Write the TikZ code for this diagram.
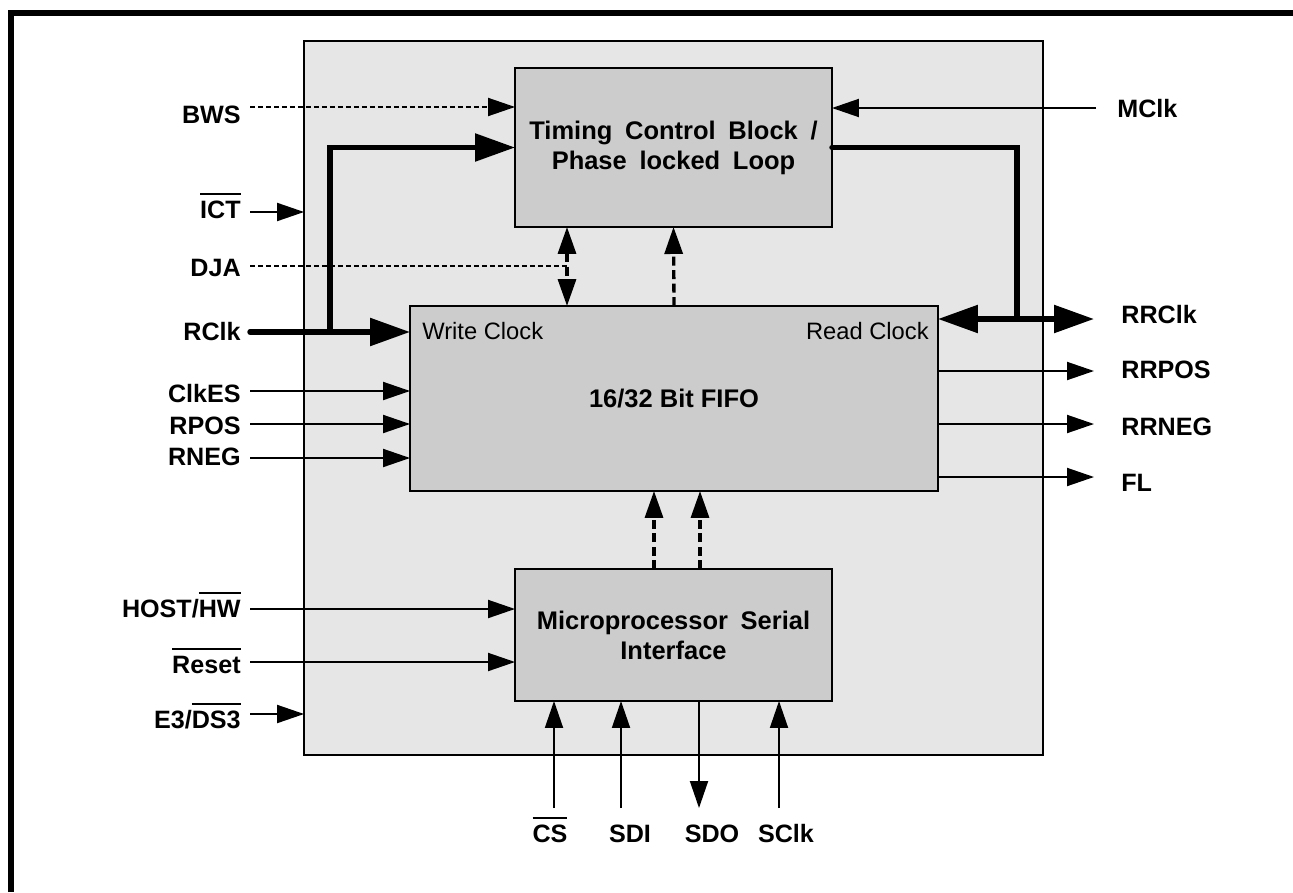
\documentclass[tikz,border=0pt]{standalone}
\usepackage{fontspec}
\setmainfont{Liberation Sans}
\newfontfamily\blkfont{Liberation Sans}[WordSpace=1.8]
\definecolor{cChip}{HTML}{E6E6E6}
\definecolor{cBlk}{HTML}{CCCCCC}
\usetikzlibrary{arrows.meta,positioning}
\newcommand{\ovl}[1]{\begingroup\setbox0=\hbox{#1}\rlap{\rule[\dimexpr\ht0+0.22em\relax]{\wd0}{1.2pt}}\box0\endgroup}

\begin{document}
\begin{tikzpicture}[x=0.02cm,y=-0.02cm,
      chipbox/.style={draw=black,fill=cChip,line width=1.1pt,inner sep=0pt,outer sep=0pt},
      blk/.style={draw=black,fill=cBlk,line width=1.1pt,inner sep=0pt,outer sep=0pt,align=center,
                  font=\blkfont\fontsize{14.5pt}{17pt}\selectfont\bfseries},
      sig/.style={inner sep=0pt,font=\fontsize{14.3pt}{16pt}\selectfont\bfseries},
      clk/.style={inner sep=0pt,font=\fontsize{13.5pt}{16pt}\selectfont},
      thn/.style={line width=1.1pt},
      dl/.style={line width=1.1pt,dash pattern=on 0.1cm off 0.06cm},
      dv/.style={line width=1.9pt,dash pattern=on 0.18cm off 0.09cm},
      bus/.style={line width=3.1pt},
      tip/.style={-{Triangle[length=0.54cm,width=0.36cm]}},
      dtip/.style={{Triangle[length=0.54cm,width=0.36cm]}-{Triangle[length=0.54cm,width=0.36cm]}},
      btip/.style={-{Triangle[length=0.8cm,width=0.54cm]}},
      bdtip/.style={{Triangle[length=0.8cm,width=0.54cm]}-{Triangle[length=0.8cm,width=0.54cm]}}]
    \useasboundingbox (0,0) rectangle (1293,892);
    \node[chipbox,minimum width=14.78cm,minimum height=14.28cm] (chip) at (673.5,398) {};
    \node[blk,minimum width=6.34cm,minimum height=3.18cm] (tcb) at (673.5,147.5)
      {Timing Control Block /\\Phase locked Loop};
    \node[blk,minimum width=10.56cm,minimum height=3.7cm,font=\fontsize{14.5pt}{17pt}\selectfont\bfseries]
      (fifo) at (674,398.5) {16/32 Bit FIFO};
    \node[blk,minimum width=6.34cm,minimum height=2.64cm] (mpi) at (673.5,635)
      {Microprocessor Serial\\Interface};
    \node[clk,anchor=base west] (wclk) at (422,339) {Write Clock};
    \node[clk,anchor=base east] (rdclk) at (929,339) {Read Clock};

    \node[sig,anchor=base east] (lBWS) at (241,123) {BWS};
    \node[sig,anchor=base east] (lICT) at (241,218) {\ovl{ICT}};
    \node[sig,anchor=base east] (lDJA) at (241,276) {DJA};
    \node[sig,anchor=base east] (lRClk) at (241,340) {RClk};
    \node[sig,anchor=base east] (lClkES) at (241,402) {ClkES};
    \node[sig,anchor=base east] (lRPOS) at (241,434) {RPOS};
    \node[sig,anchor=base east] (lRNEG) at (241,465) {RNEG};
    \node[sig,anchor=base east] (lHOST) at (241,617) {HOST/\ovl{HW}};
    \node[sig,anchor=base east] (lReset) at (241,673) {\ovl{Reset}};
    \node[sig,anchor=base east] (lE3) at (241,728) {E3/\ovl{DS3}};
    \node[sig,anchor=base west] (lMClk) at (1117,117) {MClk};
    \node[sig,anchor=base west] (lRRClk) at (1121,323) {RRClk};
    \node[sig,anchor=base west] (lRRPOS) at (1121,378) {RRPOS};
    \node[sig,anchor=base west] (lRRNEG) at (1121,435) {RRNEG};
    \node[sig,anchor=base west] (lFL) at (1121,491) {FL};
    \node[sig,anchor=base] (lCS) at (550,842) {\ovl{CS}};
    \node[sig,anchor=base] (lSDI) at (630,842) {SDI};
    \node[sig,anchor=base] (lSDO) at (712,842) {SDO};
    \node[sig,anchor=base] (lSClk) at (786,842) {SClk};

    \coordinate (bws) at (250,107);   \coordinate (ict) at (250,212);
    \coordinate (dja) at (250,266);   \coordinate (djx) at (567,266);
    \coordinate (rclk) at (250,332);  \coordinate (brn) at (330,332);
    \coordinate (clkes) at (250,391); \coordinate (rpos) at (250,424);
    \coordinate (rneg) at (250,458);  \coordinate (host) at (250,609);
    \coordinate (rst) at (250,662);   \coordinate (e3) at (250,714);
    \coordinate (mclk) at (1096,108); \coordinate (rjn) at (1017,319);
    \coordinate (rrclk) at (1094,319); \coordinate (rrpos) at (1094,371);
    \coordinate (rrneg) at (1094,424); \coordinate (fl) at (1094,477);
    \coordinate (cs) at (554,808);    \coordinate (sdi) at (621,808);
    \coordinate (sdo) at (699,808);   \coordinate (sclk) at (779,808);
    \coordinate (upA) at (654,569);   \coordinate (upB) at (700,569);

    \draw[dl,tip] (bws) -- (bws -| tcb.west);
    \draw[thn,tip] (ict) -- (ict -| chip.west);
    \draw[dl] (dja) -- (djx);
    \draw[dv,dtip] (djx |- tcb.south) -- (djx |- fifo.north);
    \draw[dv,tip] (fifo.north) -- (tcb.south);
    \draw[bus,btip,line cap=round] (rclk) -- (rclk -| fifo.west);
    \draw[bus,btip] (brn) |- (tcb.west);
    \draw[thn,tip] (clkes) -- (clkes -| fifo.west);
    \draw[thn,tip] (rpos) -- (rpos -| fifo.west);
    \draw[thn,tip] (rneg) -- (rneg -| fifo.west);
    \draw[thn,tip] (host) -- (host -| mpi.west);
    \draw[thn,tip] (rst) -- (rst -| mpi.west);
    \draw[thn,tip] (e3) -- (e3 -| chip.west);
    \draw[thn,tip] (mclk) -- (mclk -| tcb.east);
    \draw[bus,line cap=round] (tcb.east) -| (rjn);
    \draw[bus,bdtip] (rjn -| fifo.east) -- (rrclk);
    \draw[thn,tip] (rrpos -| fifo.east) -- (rrpos);
    \draw[thn,tip] (rrneg -| fifo.east) -- (rrneg);
    \draw[thn,tip] (fl -| fifo.east) -- (fl);
    \draw[dv,tip] (upA) -- (upA |- fifo.south);
    \draw[dv,tip] (upB) -- (upB |- fifo.south);
    \draw[thn,tip] (cs) -- (cs |- mpi.south);
    \draw[thn,tip] (sdi) -- (sdi |- mpi.south);
    \draw[thn,tip] (sdo |- mpi.south) -- (sdo);
    \draw[thn,tip] (sclk) -- (sclk |- mpi.south);

    \draw[line width=0.12cm] (11,892) -- (11,13) -- (1293,13);
  \end{tikzpicture}
\end{document}
